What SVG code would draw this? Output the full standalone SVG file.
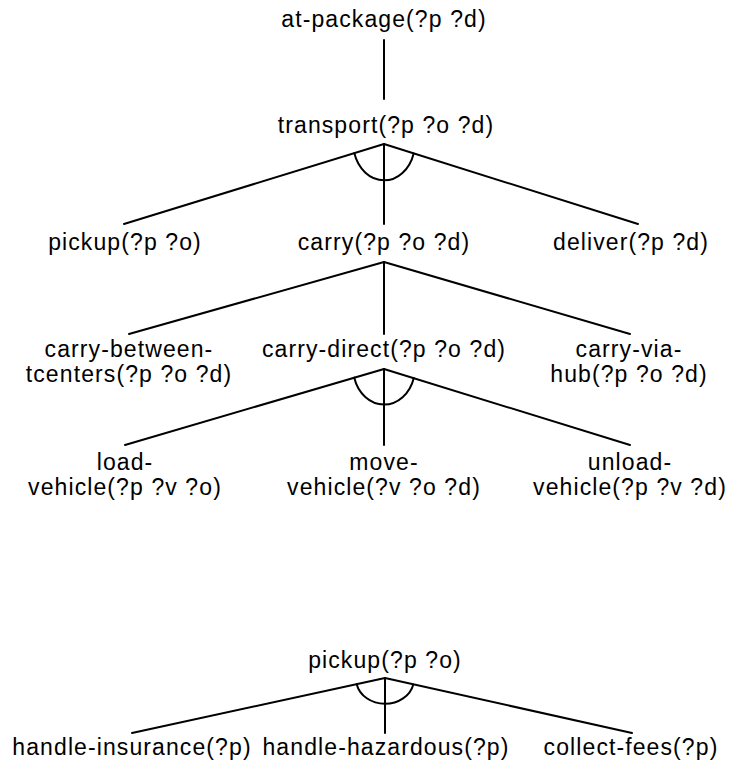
<svg xmlns="http://www.w3.org/2000/svg" width="730" height="764" viewBox="0 0 730 764">
<style>
text{font-family:"Liberation Sans",Arial,Helvetica,sans-serif;font-size:23px;letter-spacing:1.1px;fill:#000;text-anchor:middle}
.c line,.c path{stroke:#000;stroke-width:2;fill:none;stroke-linecap:round}
</style>
<rect width="730" height="764" fill="#fff"/>
<g class="c" id="connectors">
<line x1="384" y1="40" x2="384" y2="99"/>
<line x1="384" y1="144" x2="124" y2="224"/>
<line x1="384" y1="144" x2="384" y2="224"/>
<line x1="384" y1="144" x2="638" y2="224"/>
<path d="M354.3,153.1 A31,38 0 0 0 413.7,153.4"/>
<line x1="384" y1="262" x2="129" y2="334"/>
<line x1="384" y1="262" x2="384" y2="334"/>
<line x1="384" y1="262" x2="630" y2="334"/>
<line x1="384" y1="369" x2="125" y2="445"/>
<line x1="384" y1="369" x2="384" y2="445"/>
<line x1="384" y1="369" x2="630" y2="445"/>
<path d="M354.2,377.6 A31,37 0 0 0 413.8,377.9"/>
<line x1="385" y1="678" x2="132" y2="733"/>
<line x1="385" y1="678" x2="385" y2="733"/>
<line x1="385" y1="678" x2="632" y2="733"/>
<path d="M356.7,684.2 A29,25 0 0 0 413.3,684.4"/>
</g>
<g id="n-at-package"><text x="384" y="27">at-package(?p ?d)</text></g>
<g id="n-transport"><text x="386" y="133">transport(?p ?o ?d)</text></g>
<g id="n-pickup"><text x="125" y="250">pickup(?p ?o)</text></g>
<g id="n-carry"><text x="384" y="250">carry(?p ?o ?d)</text></g>
<g id="n-deliver"><text x="631" y="250">deliver(?p ?d)</text></g>
<g id="n-carry-between"><text x="129" y="357">carry-between-</text><text x="129" y="382">tcenters(?p ?o ?d)</text></g>
<g id="n-carry-direct"><text x="384" y="357">carry-direct(?p ?o ?d)</text></g>
<g id="n-carry-via-hub"><text x="629" y="357">carry-via-</text><text x="629" y="382">hub(?p ?o ?d)</text></g>
<g id="n-load-vehicle"><text x="125" y="470">load-</text><text x="125" y="495">vehicle(?p ?v ?o)</text></g>
<g id="n-move-vehicle"><text x="384" y="470">move-</text><text x="384" y="495">vehicle(?v ?o ?d)</text></g>
<g id="n-unload-vehicle"><text x="630" y="470">unload-</text><text x="630" y="495">vehicle(?p ?v ?d)</text></g>
<g id="n-pickup2"><text x="385" y="668">pickup(?p ?o)</text></g>
<g id="n-handle-insurance"><text x="132" y="755">handle-insurance(?p)</text></g>
<g id="n-handle-hazardous"><text x="386" y="755">handle-hazardous(?p)</text></g>
<g id="n-collect-fees"><text x="631" y="755">collect-fees(?p)</text></g>
</svg>
